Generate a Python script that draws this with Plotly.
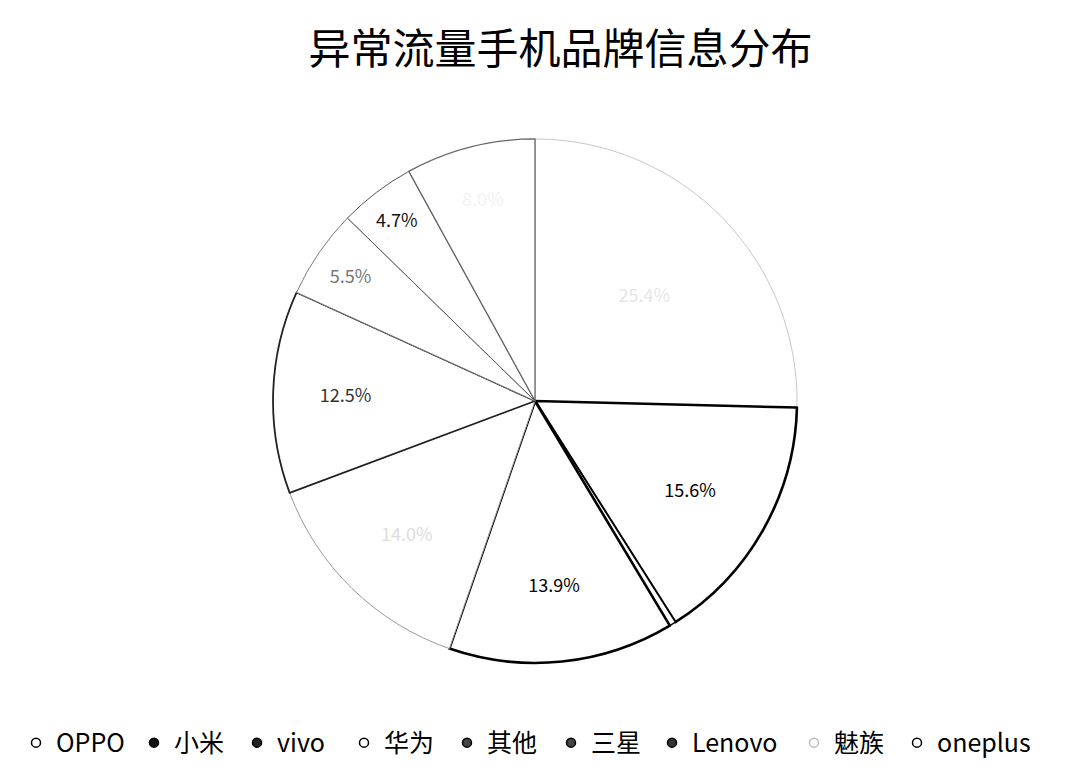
import plotly.graph_objects as go

# Data
brands = ["OPPO", "小米", "vivo", "华为", "其他", "三星", "Lenovo", "魅族", "oneplus"]
shares = [25.4, 15.6, 0.4, 13.9, 14.0, 12.5, 5.5, 4.7, 8.0]
title_text = "异常流量手机品牌信息分布"

# Styles (binarised look of the reference)
slice_line_colors = ["#c8c8c8", "#000000", "#000000", "#000000", "#9a9a9a",
                     "#222222", "#7a7a7a", "#555555", "#666666"]
slice_line_widths = [1, 2.6, 1.4, 2.6, 1, 1.8, 1, 1, 1.3]
label_colors = ["#e6e6e6", "#000000", "#000000", "#000000", "#dddddd",
                "#333333", "#777777", "#111111", "#f2f2f2"]
label_templates = ["%{percent:.1%}"] * len(brands)
label_templates[2] = ""  # tiny slice carries no label

legend_fill = ["#ffffff", "#111111", "#222222", "#ffffff", "#444444",
               "#444444", "#333333", "#ffffff", "#ffffff"]
legend_edge = ["#000000", "#000000", "#000000", "#000000", "#000000",
               "#000000", "#000000", "#bbbbbb", "#000000"]
# layout: pixel x where each legend entry's text starts
legend_text_px = [56, 174, 277, 384, 487, 591, 692, 834, 937]

FONT = "Noto Sans CJK SC"
W, H = 1080, 782

fig = go.Figure()
fig.add_trace(go.Pie(
    labels=brands,
    values=shares,
    sort=False,
    direction="clockwise",
    rotation=0,
    showlegend=False,
    marker=dict(colors=["#ffffff"] * len(brands),
                line=dict(color=slice_line_colors, width=slice_line_widths)),
    texttemplate=label_templates,
    textposition="inside",
    insidetextorientation="horizontal",
    textfont=dict(family=FONT, size=18, color=label_colors),
    domain=dict(x=[0.2528, 0.7380], y=[0.1522, 0.8223]),
    hoverinfo="label+percent",
))

legend_layouts = {}
for i, (name, fc, ec, tx) in enumerate(zip(brands, legend_fill, legend_edge, legend_text_px)):
    key = "legend" if i == 0 else f"legend{i + 1}"
    fig.add_trace(go.Scatter(
        x=[None], y=[None], mode="markers", name=name,
        legend=key,
        marker=dict(symbol="circle", size=9, color=fc,
                    line=dict(color=ec, width=1.5)),
        showlegend=True,
    ))
    legend_layouts[key] = dict(
        orientation="h", x=(tx - 40) / W, xanchor="left",
        y=0.05, yanchor="middle",
        font=dict(family=FONT, size=25, color="#000000"),
        itemwidth=30, bgcolor="rgba(0,0,0,0)", borderwidth=0,
    )

fig.update_layout(
    width=W, height=H,
    margin=dict(l=0, r=0, t=0, b=0),
    paper_bgcolor="#ffffff",
    plot_bgcolor="#ffffff",
    title=dict(text=title_text, x=0.519, xanchor="center", y=0.937, yanchor="middle",
               font=dict(family=FONT, size=42, color="#000000")),
    xaxis=dict(visible=False),
    yaxis=dict(visible=False),
    font=dict(family=FONT),
    **legend_layouts,
)

fig.write_html("out.html")
